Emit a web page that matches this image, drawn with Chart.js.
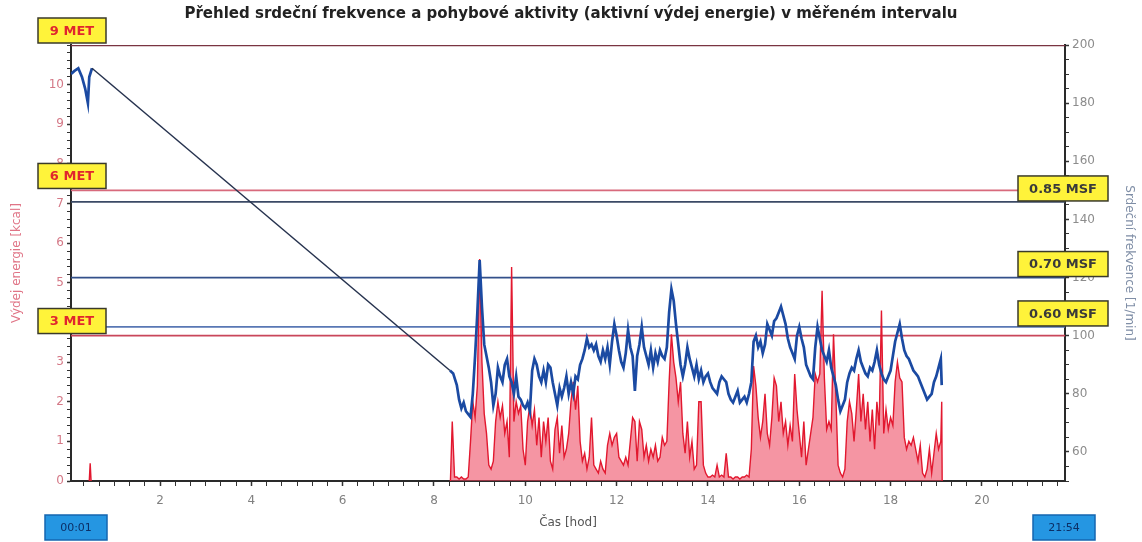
<!DOCTYPE html>
<html>
<head>
<meta charset="utf-8">
<title>Přehled srdeční frekvence</title>
<script src="https://cdn.jsdelivr.net/npm/chart.js@4"></script>
<style>
    html, body { margin: 0; padding: 0; background: #fff; }
    canvas { display: block; }
</style>
</head>
<body>
<canvas id="chart" width="1142" height="542"></canvas>
<script>
// Data
const chartTitle = 'Přehled srdeční frekvence a pohybové aktivity (aktivní výdej energie) v měřeném intervalu';
const startLabel = '00:01';
const endLabel = '21:54';
const timeRange = [0.05, 21.82];
const xTickLabels = [2, 4, 6, 8, 10, 12, 14, 16, 18, 20];
const kcalTickLabels = [0, 1, 2, 3, 4, 5, 6, 7, 8, 9, 10];
const hrTickLabels = [60, 80, 100, 120, 140, 160, 180, 200];

// sample times [h] of the recorded part (8:30 - 19:06)
const sampleTimes = [
    8.50, 8.55, 8.60, 8.65, 8.70, 8.75, 8.80, 8.85, 8.90, 8.95,
    9.00, 9.05, 9.10, 9.15, 9.20, 9.25, 9.30, 9.35, 9.40, 9.45, 9.50, 9.55, 9.60, 9.65, 9.70, 9.75, 9.80, 9.85, 9.90, 9.95,
    10.00, 10.05, 10.10, 10.15, 10.20, 10.25, 10.30, 10.35, 10.40, 10.45, 10.50, 10.55, 10.60, 10.65, 10.70, 10.75, 10.80, 10.85, 10.90, 10.95,
    11.00, 11.05, 11.10, 11.15, 11.20, 11.25, 11.30, 11.35, 11.40, 11.45, 11.50, 11.55, 11.60, 11.65, 11.70, 11.75, 11.80, 11.85, 11.90, 11.95,
    12.00, 12.05, 12.10, 12.15, 12.20, 12.25, 12.30, 12.35, 12.40, 12.45, 12.50, 12.55, 12.60, 12.65, 12.70, 12.75, 12.80, 12.85, 12.90, 12.95,
    13.00, 13.05, 13.10, 13.15, 13.20, 13.25, 13.30, 13.35, 13.40, 13.45, 13.50, 13.55, 13.60, 13.65, 13.70, 13.75, 13.80, 13.85, 13.90, 13.95,
    14.00, 14.05, 14.10, 14.15, 14.20, 14.25, 14.30, 14.35, 14.40, 14.45, 14.50, 14.55, 14.60, 14.65, 14.70, 14.75, 14.80, 14.85, 14.90, 14.95,
    15.00, 15.05, 15.10, 15.15, 15.20, 15.25, 15.30, 15.35, 15.40, 15.45, 15.50, 15.55, 15.60, 15.65, 15.70, 15.75, 15.80, 15.85, 15.90, 15.95,
    16.00, 16.05, 16.10, 16.15, 16.20, 16.25, 16.30, 16.35, 16.40, 16.45, 16.50, 16.55, 16.60, 16.65, 16.70, 16.75, 16.80, 16.85, 16.90, 16.95,
    17.00, 17.05, 17.10, 17.15, 17.20, 17.25, 17.30, 17.35, 17.40, 17.45, 17.50, 17.55, 17.60, 17.65, 17.70, 17.75, 17.80, 17.85, 17.90, 17.95,
    18.00, 18.05, 18.10, 18.15, 18.20, 18.25, 18.30, 18.35, 18.40, 18.45, 18.50, 18.55, 18.60, 18.65, 18.70, 18.75, 18.80, 18.85, 18.90, 18.95,
    19.00, 19.05, 19.10];

// heart rate [1/min]: start of the record, gap, recorded part, end
const hrLeadTimes = [0.05, 0.12, 0.21, 0.29, 0.36, 0.42, 0.45, 0.51, 8.35, 8.42];
const hrLeadValues = [190, 191, 192, 189, 185, 180, 189, 192, 88, 87];
const hrValues = [
    83, 78, 75, 77, 74, 73, 72, 80, 93, 108,
    126, 110, 97, 93, 89, 84, 76, 80, 89, 86, 84, 90, 92, 86, 84, 80, 86, 79, 78, 76,
    75, 77, 74, 88, 92, 90, 86, 84, 88, 84, 90, 89, 84, 80, 76, 82, 79, 82, 86, 80,
    84, 80, 86, 85, 90, 92, 95, 99, 96, 97, 95, 97, 93, 91, 95, 92, 96, 90, 98, 104,
    100, 95, 91, 89, 94, 102, 96, 93, 81, 93, 97, 103, 96, 93, 90, 95, 89, 94, 91, 95,
    93, 92, 96, 108, 116, 112, 104, 97, 90, 86, 90, 96, 92, 89, 86, 90, 85, 88, 84, 86,
    87, 84, 82, 81, 80, 84, 86, 85, 84, 80, 78, 77, 79, 81, 77, 78, 79, 77, 80, 84,
    98, 100, 96, 98, 94, 97, 104, 102, 100, 105, 106, 108, 110, 107, 104, 99, 96, 94, 92, 100,
    103, 99, 96, 90, 88, 86, 85, 96, 103, 99, 95, 93, 91, 95, 89, 86, 83, 78, 74, 76,
    78, 84, 87, 89, 88, 92, 95, 91, 89, 87, 86, 89, 88, 91, 95, 90, 87, 85, 84, 86,
    88, 93, 98, 101, 104, 99, 95, 93, 92, 90, 88, 87, 86, 84, 82, 80, 78, 79, 80, 84,
    86, 89, 92];
const hrTailTimes = [19.12];
const hrTailValues = [83];

// active energy expenditure [kcal]
const kcalLeadTimes = [0.45, 0.47, 0.49, 4.0, 8.36, 8.40, 8.45];
const kcalLeadValues = [0, 0.45, 0, null, 0, 1.5, 0.1];
const kcalValues = [
    0.1, 0.05, 0.1, 0.05, 0.05, 0.1, 1.0, 2.0, 1.6, 2.4,
    5.6, 3.0, 1.7, 1.2, 0.4, 0.3, 0.5, 1.5, 2.0, 1.6, 1.9, 1.2, 1.5, 0.6, 5.4, 1.5, 2.0, 1.7, 1.9, 0.8,
    0.4, 1.5, 1.9, 1.4, 1.8, 0.9, 1.6, 0.6, 1.5, 1.0, 1.6, 0.5, 0.3, 1.3, 1.6, 0.7, 1.4, 0.6, 0.8, 1.2,
    2.0, 2.5, 1.8, 2.4, 1.0, 0.5, 0.7, 0.3, 0.6, 1.6, 0.4, 0.3, 0.2, 0.5, 0.3, 0.2, 0.9, 1.2, 0.9, 1.1,
    1.2, 0.6, 0.5, 0.4, 0.6, 0.4, 1.0, 1.6, 1.5, 0.5, 1.5, 1.3, 0.6, 0.9, 0.5, 0.8, 0.6, 0.9, 0.5, 0.6,
    1.1, 0.9, 1.0, 2.5, 3.7, 3.0, 2.6, 2.0, 2.5, 1.2, 0.7, 1.5, 0.6, 1.0, 0.3, 0.4, 2.0, 2.0, 0.4, 0.2,
    0.1, 0.1, 0.15, 0.1, 0.4, 0.1, 0.15, 0.1, 0.7, 0.1, 0.1, 0.05, 0.1, 0.1, 0.05, 0.1, 0.1, 0.15, 0.1, 0.8,
    2.9, 2.4, 1.6, 1.1, 1.5, 2.2, 1.2, 0.9, 1.6, 2.6, 2.4, 1.5, 2.0, 1.2, 1.5, 0.9, 1.4, 1.0, 2.7, 1.8,
    1.2, 0.6, 1.5, 0.4, 0.8, 1.2, 1.6, 2.7, 2.5, 2.7, 4.8, 2.6, 1.3, 1.5, 1.3, 3.7, 2.2, 0.4, 0.2, 0.1,
    0.3, 1.5, 2.0, 1.7, 1.0, 1.8, 2.7, 1.5, 2.2, 1.3, 2.0, 1.0, 1.8, 0.8, 2.0, 1.4, 4.3, 1.2, 1.8, 1.3,
    1.6, 1.4, 2.5, 3.0, 2.6, 2.5, 1.1, 0.8, 1.0, 0.9, 1.1, 0.8, 0.5, 0.9, 0.2, 0.1, 0.3, 0.8, 0.2, 0.7,
    1.2, 0.8, 1.0];
const kcalTailTimes = [19.12, 19.13];
const kcalTailValues = [2.0, 0];

// reference levels
const metNames = ['3 MET', '6 MET', '9 MET'];
const metKcal = [3.67, 7.33, 11];
const msfNames = ['0.60 MSF', '0.70 MSF', '0.85 MSF'];
const msfHr = [103, 120, 146];

const metColors = ['#c9465a', '#d86a7c', '#7a3442'];
const msfColors = ['#5877b4', '#33508a', '#3b4a66'];

Chart.defaults.font.family = '"DejaVu Sans", sans-serif';

function toPoints(times, values) {
    return times.map((t, i) => ({ x: t, y: values[i] }));
}

function isLabel(v, list) {
    const n = Math.round(v);
    return Math.abs(v - n) < 1e-6 && list.includes(n);
}

function drawBox(c, x, y, w, h, fill, stroke, text, color, font) {
    c.fillStyle = fill;
    c.fillRect(x, y, w, h);
    c.lineWidth = 1.5;
    c.strokeStyle = stroke;
    c.strokeRect(x, y, w, h);
    c.fillStyle = color;
    c.font = font;
    c.textAlign = 'center';
    c.textBaseline = 'middle';
    c.fillText(text, x + w / 2, y + h / 2 + 1);
}

// yellow labels for limits and blue time stamps
const overlay = {
    id: 'overlay',
    afterDraw(chart) {
        const c = chart.ctx;
        const area = chart.chartArea;
        const xs = chart.scales.x;
        const yk = chart.scales.yKcal;
        const yh = chart.scales.yHr;
        c.save();
        metNames.forEach((name, i) => {
            const y = yk.getPixelForValue(metKcal[i]);
            drawBox(c, area.left - 33, y - 27, 68, 25, '#fff33a', '#3a3a2a', name, '#e0262e', 'bold 13px "DejaVu Sans"');
        });
        msfNames.forEach((name, i) => {
            const y = yh.getPixelForValue(msfHr[i]);
            drawBox(c, area.right - 47, y - 26, 90, 25, '#fff33a', '#3a3a2a', name, '#3a3a3a', 'bold 13px "DejaVu Sans"');
        });
        const x0 = xs.getPixelForValue(timeRange[0]);
        const x1 = xs.getPixelForValue(timeRange[1]);
        drawBox(c, x0 - 26, 515, 62, 25, '#2596e2', '#1466b0', startLabel, '#0c2f66', '11px "DejaVu Sans"');
        drawBox(c, x1 - 32, 515, 62, 25, '#2596e2', '#1466b0', endLabel, '#0c2f66', '11px "DejaVu Sans"');
        c.restore();
    }
};

const datasets = [
    {
        label: 'Srdeční frekvence',
        data: [
            ...toPoints(hrLeadTimes, hrLeadValues),
            ...toPoints(sampleTimes, hrValues),
            ...toPoints(hrTailTimes, hrTailValues)
        ],
        yAxisID: 'yHr',
        borderColor: '#1b4aa2',
        borderWidth: 2.7,
        pointRadius: 0,
        tension: 0,
        order: 0,
        segment: {
            borderColor: (s) => (s.p1.parsed.x - s.p0.parsed.x > 2 ? '#26324e' : undefined),
            borderWidth: (s) => (s.p1.parsed.x - s.p0.parsed.x > 2 ? 1.5 : undefined)
        }
    },
    {
        label: 'Výdej energie',
        data: [
            ...toPoints(kcalLeadTimes, kcalLeadValues),
            ...toPoints(sampleTimes, kcalValues),
            ...toPoints(kcalTailTimes, kcalTailValues)
        ],
        yAxisID: 'yKcal',
        borderColor: '#e2182f',
        backgroundColor: 'rgba(236, 62, 88, 0.55)',
        borderWidth: 1.4,
        fill: 'origin',
        pointRadius: 0,
        tension: 0,
        spanGaps: false,
        order: 1
    }
];
metKcal.forEach((v, i) => datasets.push({
    label: metNames[i],
    data: [{ x: timeRange[0], y: v }, { x: timeRange[1], y: v }],
    yAxisID: 'yKcal',
    borderColor: metColors[i],
    borderWidth: i === 2 ? 2.5 : 1.8,
    pointRadius: 0,
    order: 3
}));
msfHr.forEach((v, i) => datasets.push({
    label: msfNames[i],
    data: [{ x: timeRange[0], y: v }, { x: timeRange[1], y: v }],
    yAxisID: 'yHr',
    borderColor: msfColors[i],
    borderWidth: 1.8,
    pointRadius: 0,
    order: 2
}));

const ctx = document.getElementById('chart').getContext('2d');
new Chart(ctx, {
    type: 'line',
    data: { datasets },
    options: {
        responsive: false,
        animation: false,
        layout: { padding: 0 },
        plugins: {
            legend: { display: false },
            tooltip: { enabled: false },
            title: {
                display: true,
                text: chartTitle,
                color: '#222',
                font: { size: 15, weight: 'bold' },
                padding: { top: 5, bottom: 22 }
            }
        },
        scales: {
            x: {
                type: 'linear',
                min: timeRange[0],
                max: timeRange[1],
                afterFit: (s) => { s.height = 61; },
                border: { display: true, color: '#2a2a2a', width: 2 },
                grid: {
                    drawOnChartArea: false,
                    tickLength: 5,
                    tickColor: '#333',
                    tickWidth: (c) => (c.tick && isLabel(c.tick.value, xTickLabels) ? 1.5 : 1)
                },
                ticks: {
                    stepSize: 1 / 3,
                    autoSkip: false,
                    includeBounds: false,
                    maxRotation: 0,
                    color: '#808080',
                    font: { size: 12 },
                    padding: 8,
                    callback: (v) => (isLabel(v, xTickLabels) ? String(Math.round(v)) : '')
                },
                title: {
                    display: true,
                    text: 'Čas [hod]',
                    color: '#555',
                    font: { size: 12 },
                    padding: { top: 0, bottom: 12 }
                }
            },
            yKcal: {
                position: 'left',
                min: 0,
                max: 11,
                afterFit: (s) => { s.width = 71; },
                border: { display: true, color: '#2a2a2a', width: 2 },
                grid: {
                    drawOnChartArea: false,
                    tickLength: 4,
                    tickColor: '#333',
                    tickWidth: (c) => (c.tick && isLabel(c.tick.value, kcalTickLabels) ? 1.5 : 1)
                },
                ticks: {
                    stepSize: 0.2,
                    autoSkip: false,
                    includeBounds: false,
                    color: '#d47886',
                    font: { size: 12 },
                    padding: 3,
                    callback: (v) => (isLabel(v, kcalTickLabels) ? String(Math.round(v)) : '')
                },
                title: {
                    display: true,
                    text: 'Výdej energie [kcal]',
                    color: '#e07486',
                    font: { size: 12 },
                    padding: { top: 10, bottom: 0 }
                }
            },
            yHr: {
                position: 'right',
                min: 50,
                max: 200,
                afterFit: (s) => { s.width = 77; },
                border: { display: true, color: '#2a2a2a', width: 2 },
                grid: {
                    drawOnChartArea: false,
                    tickLength: 4,
                    tickColor: '#333',
                    tickWidth: (c) => (c.tick && isLabel(c.tick.value, hrTickLabels) ? 1.5 : 1)
                },
                ticks: {
                    stepSize: 5,
                    autoSkip: false,
                    includeBounds: false,
                    color: '#8c8c8c',
                    font: { size: 12 },
                    padding: 3,
                    callback: (v) => (isLabel(v, hrTickLabels) ? String(Math.round(v)) : '')
                },
                title: {
                    display: true,
                    text: 'Srdeční frekvence [1/min]',
                    color: '#7f8ea6',
                    font: { size: 12 },
                    padding: { top: 6, bottom: 0 }
                }
            }
        }
    },
    plugins: [overlay]
});
</script>
</body>
</html>
